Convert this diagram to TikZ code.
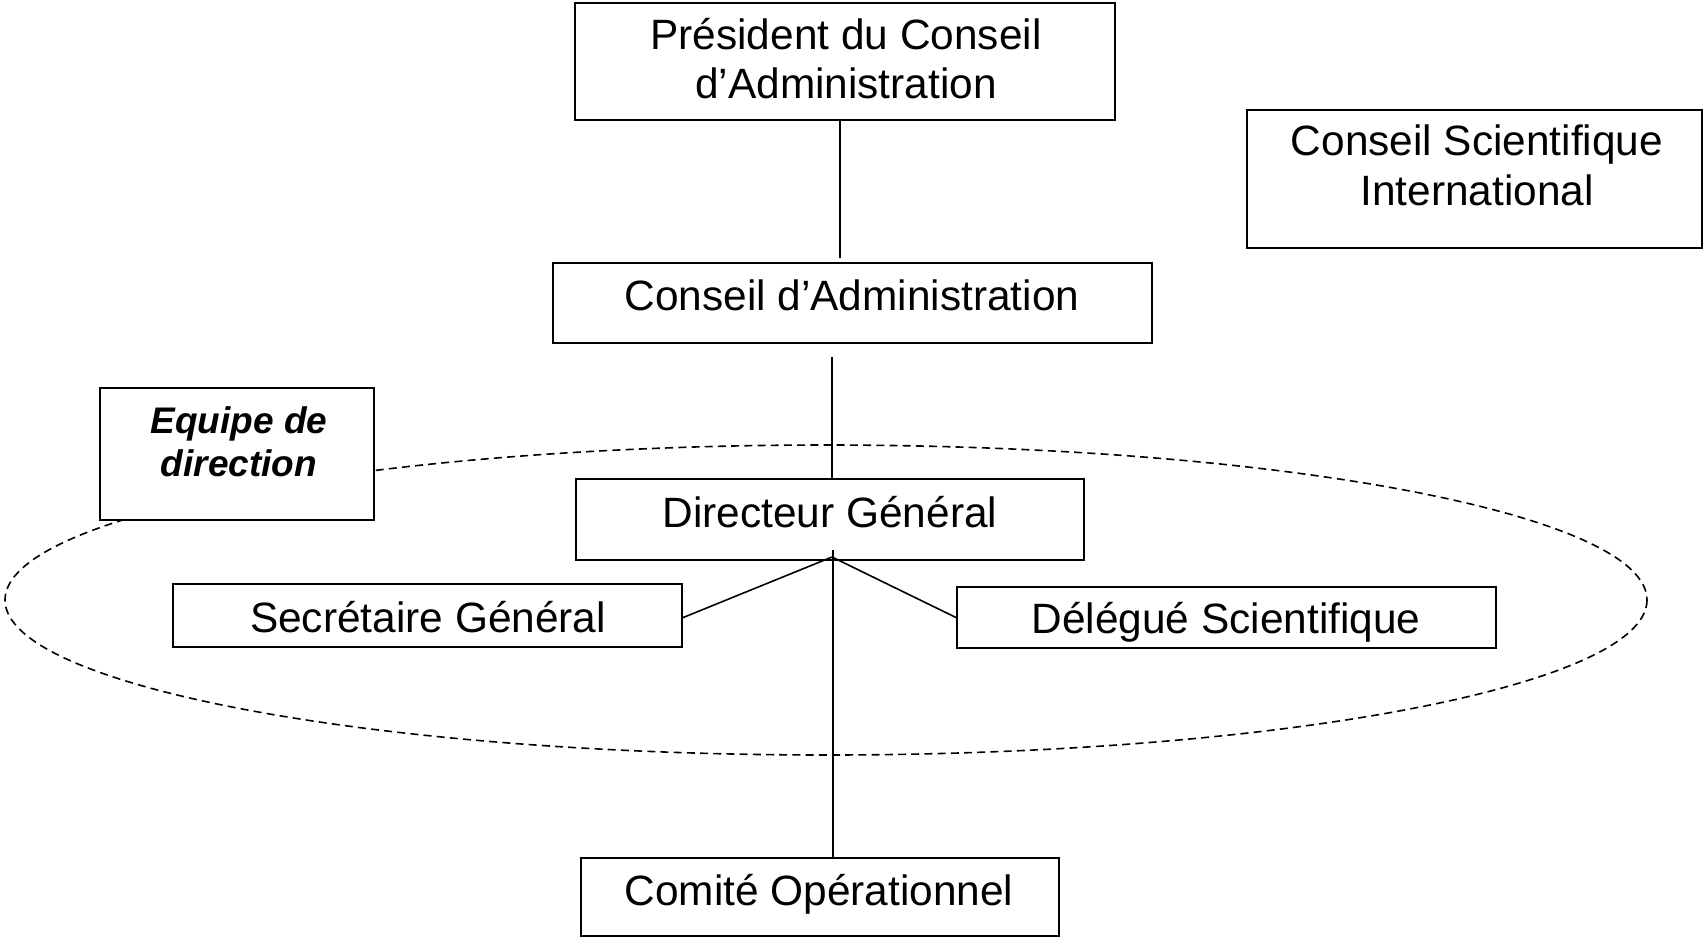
\documentclass[tikz,border=0pt]{standalone}
\usepackage{fontspec}
\setmainfont{Liberation Sans}
\begin{document}
\begin{tikzpicture}[x=0.5pt,y=-0.5pt,
  box/.style={draw=black,line width=1pt,fill=white,inner sep=0pt,outer sep=0pt},
  txt/.style={inner sep=0pt,outer sep=0pt,font=\fontsize{21.2pt}{24.5pt}\selectfont,align=center},
  eqtxt/.style={inner sep=0pt,outer sep=0pt,font=\fontsize{18.5pt}{21.5pt}\selectfont\bfseries\itshape,align=center},
  link/.style={draw=black,line width=0.8pt},
  team/.style={draw=black,line width=0.8pt,dash pattern=on 4pt off 2.6pt}]
\useasboundingbox (0,0) rectangle (1704,939);
% dashed team ellipse
\draw[team] (826,600) ellipse [x radius=821, y radius=155];
% boxes
\node[box,minimum width=270pt,minimum height=58.5pt] (pres) at (845,61.5) {};
\node[box,minimum width=227.5pt,minimum height=69pt] (csi) at (1474.5,179) {};
\node[box,minimum width=299.5pt,minimum height=40pt] (ca) at (852.5,303) {};
\node[box,minimum width=137pt,minimum height=66pt] (eq) at (237,454) {};
\node[box,minimum width=254pt,minimum height=40.5pt] (dir) at (830,519.5) {};
\node[box,minimum width=254.5pt,minimum height=31.5pt] (sec) at (427.5,615.5) {};
\node[box,minimum width=269.5pt,minimum height=30.5pt] (del) at (1226.5,617.5) {};
\node[box,minimum width=239pt,minimum height=39pt] (com) at (820,897) {};
% texts
\node[txt,anchor=base] (presA) at (846,49) {Président du Conseil};
\node[txt,anchor=base] (presB) at (846,98) {d’Administration};
\node[txt,anchor=base] (csiA) at (1477,155) {Conseil Scientifique};
\node[txt,anchor=base] (csiB) at (1477,205) {International};
\node[txt,anchor=base] (caT) at (852,310) {Conseil d’Administration};
\node[eqtxt,anchor=base] (eqA) at (239,433) {Equipe de};
\node[eqtxt,anchor=base] (eqB) at (239,476) {direction};
\node[txt,anchor=base] (dirT) at (830,527) {Directeur Général};
\node[txt,anchor=base] (secT) at (428,632) {Secrétaire Général};
\node[txt,anchor=base] (delT) at (1226,633) {Délégué Scientifique};
\node[txt,anchor=base] (comT) at (819,905) {Comité Opérationnel};
% connectors
\coordinate (p1) at (pres.south -| 840,0);
\coordinate (p2) at (840,258);
\draw[link] (p1) -- (p2);
\coordinate (c1) at (832,357);
\coordinate (c2) at (dir.north -| 832,0);
\draw[link] (c1) -- (c2);
\coordinate (d1) at (833,550);
\coordinate (d2) at (com.north -| 833,0);
\draw[link] (d1) -- (d2);
\coordinate (f) at (832,557);
\coordinate (s1) at (sec.east |- 0,618);
\coordinate (g1) at (del.west |- 0,618);
\draw[link] (f) -- (s1);
\draw[link] (f) -- (g1);
\end{tikzpicture}
\end{document}
